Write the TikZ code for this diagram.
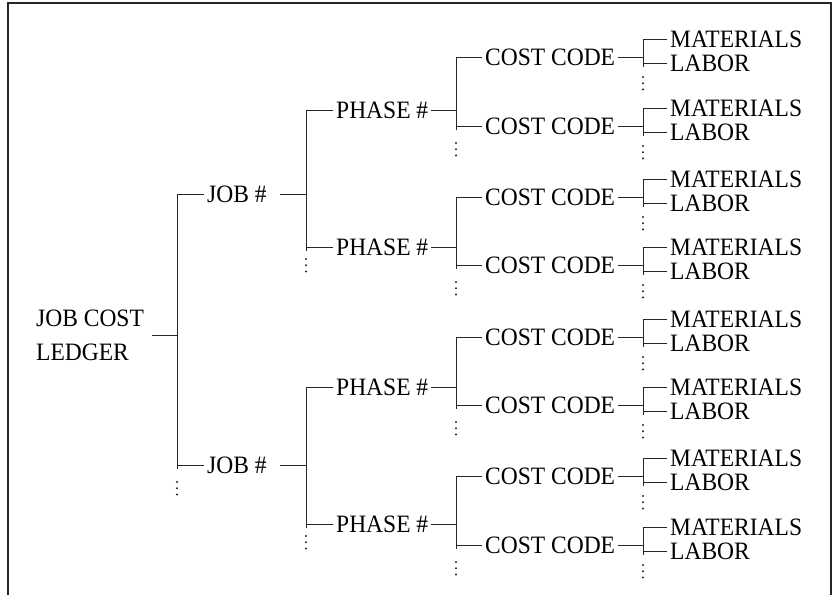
\documentclass[tikz,border=0pt]{standalone}
\usepackage{fontspec}
\setmainfont{Liberation Serif}
\newfontfamily\lblfont[FakeStretch=0.94]{Liberation Serif}
\begin{document}
\begin{tikzpicture}[x=1pt,y=-1pt,
  base/.style={font=\lblfont\fontsize{25}{27}\selectfont, text=black, inner xsep=3pt, inner ysep=0pt},
  lbl/.style={base, text height=16.5pt, text depth=0pt, anchor=west},
  conn/.style={draw=black!85, line width=0.9pt},
  dots3/.style={draw=black!85, line width=2.3pt, line cap=round, dash pattern=on 0pt off 6.2pt}]
\useasboundingbox (0,0) rectangle (838,595);
\draw[line width=1.4pt, black!85] (8,595) -- (8,3) -- (831,3) -- (831,595);

% ledger
\node[base, align=left, anchor=west, font=\lblfont\fontsize{25}{34}\selectfont] (ledger) at (33,335) {JOB COST\\LEDGER};
\coordinate (lr) at (152,335);
\coordinate (lj) at (177,335);
\draw[conn] (lr) -- (lj);

% jobs
\foreach \y [count=\j] in {194,465} {
  \node[lbl] (job\j) at (204,\y) {JOB \#};
  \coordinate (jl\j) at (177,\y);
  \coordinate (jr\j) at (280,\y);
  \coordinate (ja\j) at (306,\y);
  \draw[conn] (jl\j) -- (job\j.west);
  \draw[conn] (jr\j) -- (ja\j);
}
\draw[conn] (jl1) -- ([yshift=-4pt]jl2);
\draw[dots3] ([yshift=-17pt]jl2) -- ([yshift=-30pt]jl2);

% phases
\foreach \y [count=\p] in {110,247,387,524} {
  \node[lbl] (ph\p) at (333,\y) {PHASE \#};
  \coordinate (pl\p) at (306,\y);
  \coordinate (pa\p) at (456,\y);
  \draw[conn] (pl\p) -- (ph\p.west);
  \draw[conn] (ph\p.east) -- (pa\p);
}
\foreach \a/\b in {1/2,3/4} {
  \draw[conn] (pl\a) -- ([yshift=-4pt]pl\b);
  \draw[dots3] ([yshift=-12pt]pl\b) -- ([yshift=-25pt]pl\b);
}

% cost codes
\foreach \y [count=\c] in {57,126,197,265,337,405,476,545} {
  \node[lbl] (cc\c) at (482,\y) {COST CODE};
  \coordinate (cl\c) at (456,\y);
  \coordinate (ca\c) at (643,\y);
  \draw[conn] (cl\c) -- (cc\c.west);
  \draw[conn] (cc\c.east) -- (ca\c);
  \node[lbl] (mat\c) at (667,\y-18) {MATERIALS};
  \node[lbl] (lab\c) at (667,\y+6) {LABOR};
  \coordinate (ml\c) at (643,\y-18);
  \coordinate (ll\c) at (643,\y+6);
  \draw[conn] (ml\c) -- (mat\c.west);
  \draw[conn] (ll\c) -- (lab\c.west);
  \draw[conn] (ml\c) -- ([yshift=-4pt]ll\c);
  \draw[dots3] ([yshift=-14pt]ll\c) -- ([yshift=-27pt]ll\c);
}
\foreach \a/\b in {1/2,3/4,5/6,7/8} {
  \draw[conn] (cl\a) -- ([yshift=-4pt]cl\b);
  \draw[dots3] ([yshift=-17pt]cl\b) -- ([yshift=-30pt]cl\b);
}
\end{tikzpicture}
\end{document}
